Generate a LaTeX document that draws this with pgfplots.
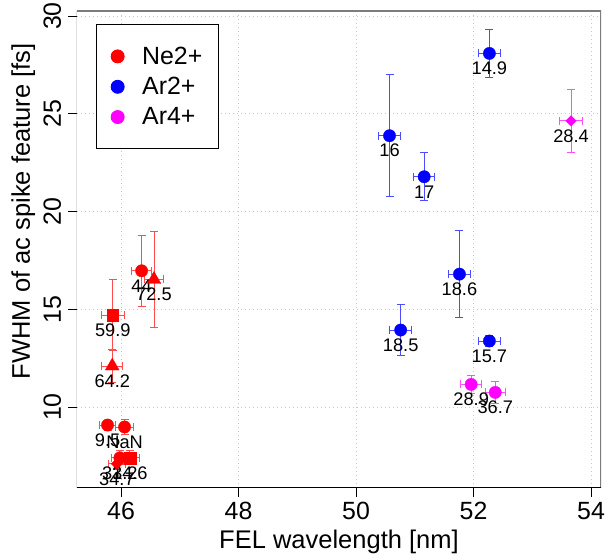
\documentclass[border=0pt]{standalone}
\usepackage{fontspec}
\setmainfont{Liberation Sans}
\usepackage{pgfplots}
\usepackage{pgfplotstable}
\pgfplotsset{compat=1.18}

% Ne2+ measurements, grouped by marker shape: x, y, x error, y error, label
\pgfplotstableread{
x     y     ex    ey    lab
46.35 16.97 0.17  1.82  44
45.77 9.08  0.14  0.26  9.5
46.06 8.98  0.15  0.40  NaN
45.98 7.40  0.15  0.36  31.2
}\neCirc
\pgfplotstableread{
x     y     ex    ey    lab
46.56 16.53 0.16  2.45  72.5
45.85 12.10 0.18  0.84  64.2
}\neTri
\pgfplotstableread{
x     y     ex    ey    lab
45.86 14.71 0.19  1.83  59.9
46.15 7.40  0.16  0.36  34.6
}\neSq
\pgfplotstableread{
x     y     ex    ey    lab
45.93 7.10  0.15  0.30  34.7
}\neDia
% Ar2+
\pgfplotstableread{
x     y     ex    ey    lab
52.27 28.09 0.18  1.25  14.9
50.57 23.88 0.18  3.12  16
51.16 21.78 0.18  1.22  17
51.76 16.80 0.19  2.22  18.6
50.76 13.94 0.19  1.29  18.5
52.27 13.38 0.19  0.30  15.7
}\arTwo
% Ar4+
\pgfplotstableread{
x     y     ex    ey    lab
51.96 11.16 0.18  0.45  28.9
52.37 10.75 0.17  0.58  36.7
}\arFourCirc
\pgfplotstableread{
x     y     ex    ey    lab
53.66 24.64 0.19  1.60  28.4
}\arFourDia

\definecolor{gridgray}{RGB}{200,200,200}
\definecolor{boxgray}{RGB}{125,125,125}
\definecolor{nered}{RGB}{255,0,0}
\definecolor{arblue}{RGB}{0,0,255}
\definecolor{armag}{RGB}{255,0,255}

\pgfplotsset{
  pts/.style={
    error bars/.cd,
      x dir=both, x explicit, y dir=both, y explicit,
      error mark=-,
      error bar style={#1!70!white, line width=0.9bp},
      error mark options={rotate=90, #1!70!white, line width=0.9bp, mark size=4bp},
    /pgfplots/.cd,
    only marks, forget plot, color=#1,
    mark options={fill=#1, draw=#1, line width=0.3bp},
  },
}

\begin{document}
\begin{tikzpicture}
\begin{axis}[
  scale only axis, width=524bp, height=477bp,
  xmin=45.25, xmax=54.17, ymin=5.86, ymax=30.26,
  xtick={46,48,50,52,54}, ytick={10,15,20,25,30},
  xtick pos=bottom, ytick pos=left,
  tick align=outside, major tick length=9bp,
  tick style={black, line width=0.9bp},
  grid=major,
  major grid style={gridgray, line width=0.9bp, dash pattern=on 1bp off 3bp},
  axis line style={draw=none},
  /pgf/number format/assume math mode=true,
  ticklabel style={font=\fontsize{25}{25}\selectfont},
  xticklabel style={inner ysep=5bp},
  yticklabel style={rotate=90, anchor=base},
  yticklabel shift=7bp,
  xlabel={FEL wavelength [nm]},
  ylabel={FWHM of ac spike feature [fs]},
  label style={font=\fontsize{25.6}{26}\selectfont},
  xlabel style={at={(axis description cs:0.5,-0.126)}, anchor=base},
  ylabel style={at={(axis description cs:-0.0897,0.58)}, anchor=base},
  point meta=explicit symbolic,
  nodes near coords,
  every node near coord/.append style={font=\fontsize{18.3}{18.3}\selectfont,
    text=black, anchor=center, yshift=-15bp, inner sep=0pt},
  legend style={at={(axis description cs:0.0357,0.9727)}, anchor=north west,
    draw=black, line width=0.9bp, fill=white,
    font=\fontsize{25}{25}\selectfont,
    inner xsep=15bp, inner ysep=21.5bp, row sep=9.5bp, column sep=17bp,
    nodes={inner sep=1bp}},
  legend cell align=left,
]
% frame: grey top and right, black left and bottom
\draw[boxgray, line width=2bp] (axis description cs:0,1) -- (axis description cs:1,1) -- (axis description cs:1,0);
\draw[black, line width=1bp] (axis description cs:0,1) -- (axis description cs:0,0) -- (axis description cs:1,0);

\addplot[pts=nered, mark=*, mark size=6.2bp] table[x=x, y=y, x error=ex, y error=ey, meta=lab] {\neCirc};
\addplot[pts=nered, mark=triangle*, mark size=8bp] table[x=x, y=y, x error=ex, y error=ey, meta=lab] {\neTri};
\addplot[pts=nered, mark=square*, mark size=5.8bp] table[x=x, y=y, x error=ex, y error=ey, meta=lab] {\neSq};
\addplot[pts=nered, mark=square*, mark size=4bp, mark options={rotate=45}] table[x=x, y=y, x error=ex, y error=ey, meta=lab] {\neDia};
\addplot[pts=arblue, mark=*, mark size=6.2bp] table[x=x, y=y, x error=ex, y error=ey, meta=lab] {\arTwo};
\addplot[pts=armag, mark=*, mark size=6.2bp] table[x=x, y=y, x error=ex, y error=ey, meta=lab] {\arFourCirc};
\addplot[pts=armag, mark=square*, mark size=3.7bp, mark options={rotate=45}] table[x=x, y=y, x error=ex, y error=ey, meta=lab] {\arFourDia};

\addlegendimage{only marks, mark=*, nered, mark size=6.5bp}
\addlegendentry{Ne2+}
\addlegendimage{only marks, mark=*, arblue, mark size=6.5bp}
\addlegendentry{Ar2+}
\addlegendimage{only marks, mark=*, armag, mark size=6.5bp}
\addlegendentry{Ar4+}
\end{axis}
\pgfresetboundingbox
\path (current axis.south west) ++(-77bp,-72bp) rectangle ++(608bp,560bp);
\end{tikzpicture}
\end{document}
